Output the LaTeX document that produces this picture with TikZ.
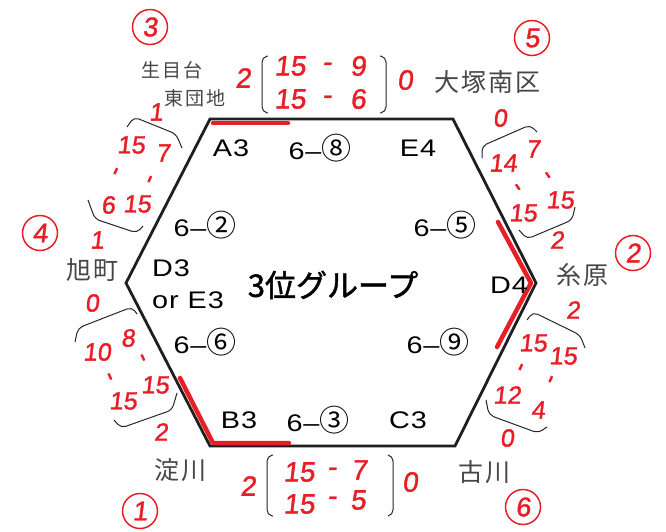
\documentclass[tikz,border=0pt]{standalone}
\usepackage{fontspec}
\setmainfont{Liberation Sans}
\newfontfamily\labfont[FakeStretch=1.2, LetterSpace=4]{Liberation Sans}
\newfontfamily\jpfont{Noto Sans CJK JP}
\newfontfamily\placefont[LetterSpace=8]{Noto Sans CJK JP}
\newfontfamily\jpbold[FakeBold=1.5]{Noto Sans CJK JP}
\newfontfamily\handfont[FakeSlant=0.12, FakeBold=1.4]{Liberation Sans}
\newcommand{\mcirc}[1]{{\jpfont\fontsize{30}{32}\selectfont #1}}
\definecolor{hred}{RGB}{232,30,38}
\definecolor{pencil}{RGB}{70,70,70}
\tikzset{
  hexline/.style={line width=2.8pt, black!88, line join=miter},
  hlite/.style={draw=hred, line width=4.5pt, line cap=round},
  lbl/.style={font=\labfont\fontsize{24}{27}\selectfont, inner sep=0pt},
  sc/.style={text=hred, font=\handfont\fontsize{28}{30}\selectfont, inner sep=0pt},
  scs/.style={text=hred, font=\handfont\fontsize{25}{28}\selectfont, inner sep=0pt},
  circnum/.style={circle, draw=hred, line width=1.5pt, text=hred,
    font=\handfont\fontsize{27}{30}\selectfont, minimum size=35pt, inner sep=0pt},
  place/.style={text=pencil, font=\placefont\fontsize{25}{28}\selectfont, inner sep=0pt},
  places/.style={text=pencil, font=\placefont\fontsize{19}{22}\selectfont, inner sep=0pt},
  brk/.style={line width=1pt, black!85, rounded corners=5pt}
}
\begin{document}
\begin{tikzpicture}[x=1pt, y=-1pt]
\useasboundingbox (0,0) rectangle (666,531);
% hexagon
\coordinate (TL) at (210,119);
\coordinate (TR) at (453,119);
\coordinate (R) at (536,283);
\coordinate (BR) at (455,446);
\coordinate (BL) at (210,446);
\coordinate (L) at (126,283);
\draw[hexline] (TL) -- (TR) -- (R) -- (BR) -- (BL) -- (L) -- cycle;
% red highlights
\coordinate (t1) at (213,123); \coordinate (t2) at (288,123);
\draw[hlite] (t1) -- (t2);
\coordinate (b0) at (180,378); \coordinate (b1) at (213,443); \coordinate (b2) at (289,443);
\draw[hlite, line join=round] (b0) -- (b1) -- (b2);
\coordinate (r0) at (498,222); \coordinate (r1) at (531,283); \coordinate (r2) at (497,347);
\draw[hlite, line join=round] (r0) -- (r1) -- (r2);
% printed labels
\node[lbl] (a3) at (231,148) {A3};
\node[lbl] (m8) at (320,148) {6–\mcirc{⑧}};
\node[lbl] (e4) at (418,148) {E4};
\node[lbl] (m2) at (205,225) {6–\mcirc{②}};
\node[lbl] (m5) at (445,225) {6–\mcirc{⑤}};
\node[lbl, anchor=west] (d3) at (152,268) {D3};
\node[lbl, anchor=west] (ore3) at (152,300) {or E3};
\node[lbl] (d4) at (509,285) {D4};
\node[lbl] (m6) at (205,342) {6–\mcirc{⑥}};
\node[lbl] (m9) at (438,342) {6–\mcirc{⑨}};
\node[lbl] (b3) at (239,420) {B3};
\node[lbl] (m3) at (318,420) {6–\mcirc{③}};
\node[lbl] (c3) at (408,420) {C3};
\node[font=\jpbold\fontsize{31}{34}\selectfont, inner sep=0pt] (title) at (333,285) {3位グループ};
% circled team numbers
\node[circnum] (c3n) at (150,27) {3};
\node[circnum] (c5n) at (532,38) {5};
\node[circnum] (c4n) at (40,233) {4};
\node[circnum] (c2n) at (633,253) {2};
\node[circnum] (c1n) at (140,511) {1};
\node[circnum] (c6n) at (523,507) {6};
% place names
\node[places] (p3a) at (172,70) {生目台};
\node[places] (p3b) at (195,98) {東団地};
\node[place] (p5) at (487,82) {大塚南区};
\node[place] (p4) at (92,270) {旭町};
\node[place] (p2) at (582,275) {糸原};
\node[place] (p1) at (180,470) {淀川};
\node[place] (p6) at (484,472) {古川};
% top match
\node[sc] (tw) at (243,78) {2};
\draw[brk] (268,56) -- (262,57) -- (262,112) -- (268,113);
\node[sc] (ta1) at (290,66) {15};
\node[sc] (td1) at (327,67) {-};
\node[sc] (tb1) at (358,66) {9};
\node[sc] (ta2) at (290,99) {15};
\node[sc] (td2) at (327,100) {-};
\node[sc] (tb2) at (358,99) {6};
\draw[brk] (380,56) -- (386,57) -- (386,112) -- (380,113);
\node[sc] (tl) at (405,80) {0};
% bottom match
\node[sc] (bw) at (248,486) {2};
\draw[brk] (273,455) -- (267,456) -- (267,515) -- (273,516);
\node[sc] (ba1) at (299,472) {15};
\node[sc] (bd1) at (332,472) {-};
\node[sc] (bb1) at (359,470) {7};
\node[sc] (ba2) at (299,504) {15};
\node[sc] (bd2) at (332,501) {-};
\node[sc] (bb2) at (358,500) {5};
\draw[brk] (388,455) -- (393,456) -- (393,515) -- (388,516);
\node[sc] (bl) at (410,482) {0};
% left upper match (3 vs 4)
\node[scs] (lu1) at (156,112) {1};
\draw[brk] (127,127) -- (134,117) -- (176,134) -- (182,148);
\node[scs] (lua1) at (131,145) {15};
\node[scs] (lub1) at (163,153) {7};
\node[scs, rotate=65] (lud1) at (118,173) {-};
\node[scs, rotate=65] (lud2) at (152,181) {-};
\node[scs] (lua2) at (108,205) {6};
\node[scs] (lub2) at (137,204) {15};
\draw[brk] (88,200) -- (95,219) -- (137,233) -- (143,226);
\node[scs] (lu2) at (97,240) {1};
% left lower match (4 vs 1)
\node[scs] (ll0) at (92,303) {0};
\draw[brk] (75,342) -- (78,328) -- (132,307) -- (137,314);
\node[scs] (lla1) at (97,352) {10};
\node[scs] (llb1) at (128,338) {8};
\node[scs, rotate=-65] (lld1) at (107,377) {-};
\node[scs, rotate=-65] (lld2) at (140,358) {-};
\node[scs] (lla2) at (123,401) {15};
\node[scs] (llb2) at (155,385) {15};
\draw[brk] (114,420) -- (121,428) -- (172,410) -- (177,393);
\node[scs] (ll2) at (161,432) {2};
% right upper match (5 vs 2)
\node[scs] (ru0) at (500,118) {0};
\draw[brk] (482,158) -- (482,146) -- (530,125) -- (537,132);
\node[scs] (rua1) at (503,163) {14};
\node[scs] (rub1) at (533,149) {7};
\node[scs, rotate=-55] (rud1) at (515,188) {-};
\node[scs, rotate=-55] (rud2) at (545,176) {-};
\node[scs] (rua2) at (523,213) {15};
\node[scs] (rub2) at (560,200) {15};
\draw[brk] (519,230) -- (527,239) -- (572,220) -- (575,207);
\node[scs] (ru2) at (557,240) {2};
% right lower match (2 vs 6)
\node[scs] (rl2) at (573,310) {2};
\draw[brk] (527,320) -- (533,312) -- (580,335) -- (585,348);
\node[scs] (rla1) at (533,343) {15};
\node[scs] (rlb1) at (563,356) {15};
\node[scs, rotate=65] (rld1) at (523,369) {-};
\node[scs, rotate=65] (rld2) at (553,381) {-};
\node[scs] (rla2) at (507,395) {12};
\node[scs] (rlb2) at (538,410) {4};
\draw[brk] (486,400) -- (489,415) -- (538,433) -- (547,427);
\node[scs] (rl0) at (507,438) {0};
\end{tikzpicture}
\end{document}
